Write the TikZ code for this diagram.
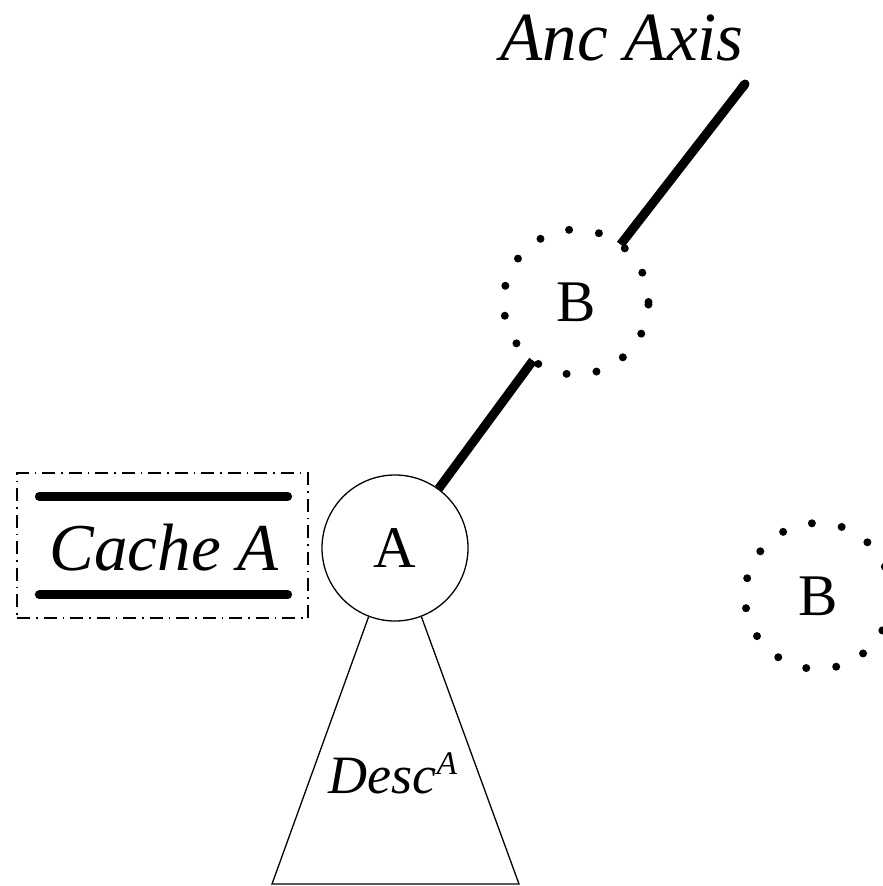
\documentclass[tikz,border=0pt]{standalone}
\usepackage{fontspec}
\newfontfamily\tms{Liberation Serif}
\usetikzlibrary{calc}
\begin{document}
\begin{tikzpicture}[x=1pt,y=-1pt,
  solidnode/.style={circle,draw,line width=1.3pt,minimum size=146pt,inner sep=0pt,font=\tms\fontsize{59}{60}\selectfont},
  dotnode/.style={circle,inner sep=0pt,minimum size=145pt,font=\tms\fontsize{59}{60}\selectfont},
  dotring/.style={line width=8pt,line cap=round,dash pattern=on 0pt off 30.2pt},
  axisline/.style={line width=9pt},
  cachebar/.style={line width=9pt,line cap=round},
  cachebox/.style={line width=1.3pt,dash pattern=on 13pt off 6pt on 1.5pt off 6pt}]
\useasboundingbox (0,0) rectangle (883,886);

% tree node A and its descendant subtree
\node[solidnode] (A) at (395,548) {A};
\coordinate (baseL) at (272,884);
\coordinate (baseR) at (519,884);
\draw[line width=1.3pt,line join=miter] (A.-111) -- (baseL) -- (baseR) -- (A.-69);
\node[font=\tms\itshape\fontsize{54}{56}\selectfont] (desc) at (393,773)
  {Desc\raisebox{19pt}{\fontsize{33}{33}\selectfont A}};

% ancestor nodes (dotted) and the ancestor axis
\node[dotnode] (B1) at (576,302) {B};
\draw[dotring] (B1.center) circle[radius=72.5pt];
\node[dotnode] (B2) at (818,596) {B};
\draw[dotring] (B2.center) circle[radius=73pt];

\coordinate (axtop) at (745,84);
\draw[axisline] (A) -- (B1);
\draw[axisline] (B1) -- (axtop);
\draw[line width=9pt,line cap=round] ($(axtop)!4.5pt!(B1)$) -- (axtop);
\node[font=\tms\itshape\fontsize{69}{72}\selectfont] (anc) at (622,38) {Anc Axis};

% cache of A
\node[draw,cachebox,minimum width=291pt,minimum height=145pt] (cache) at (162.5,545.5) {};
\node[font=\tms\itshape\fontsize{67}{72}\selectfont] (cachetxt) at (164,548) {Cache A};
\draw[cachebar] ([xshift=23pt,yshift=-24pt]cache.north west) -- ([xshift=-21pt,yshift=-24pt]cache.north east);
\draw[cachebar] ([xshift=23pt,yshift=24pt]cache.south west) -- ([xshift=-21pt,yshift=24pt]cache.south east);
\end{tikzpicture}
\end{document}
